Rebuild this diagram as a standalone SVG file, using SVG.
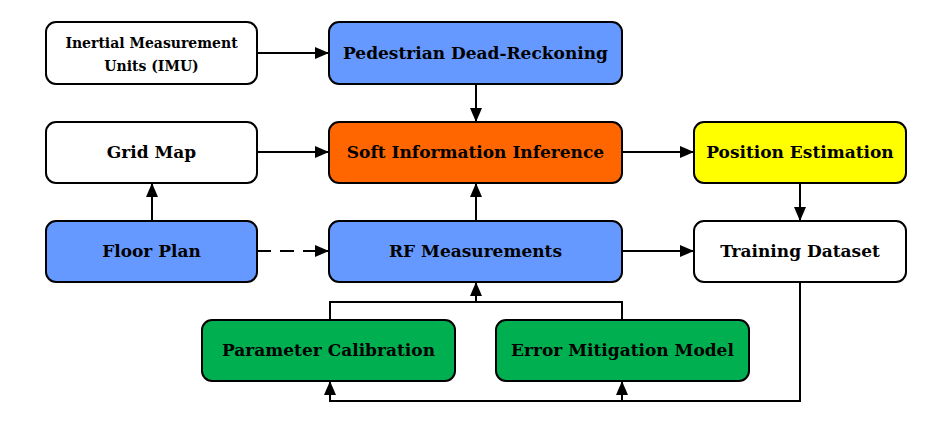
<svg xmlns="http://www.w3.org/2000/svg" width="949" height="434" viewBox="0 0 949 434">
<style>
.box{stroke:#000;stroke-width:2}
.t{font-family:"DejaVu Serif",serif;font-weight:bold;font-size:17px;text-anchor:middle;fill:#000}
.s{font-size:14px}
.c{fill:none;stroke:#000;stroke-width:2}
</style>
<defs>
<marker id="a" markerWidth="14" markerHeight="12" viewBox="0 0 14 12" refX="14" refY="6" orient="auto" markerUnits="userSpaceOnUse">
<path d="M0,0 L14,6 L0,12 Z" fill="#000"/>
</marker>
</defs>
<rect width="949" height="434" fill="#fff"/>
<g id="connectors">
<path class="c" d="M257,53 H329" marker-end="url(#a)"/>
<path class="c" d="M476,84 V122" marker-end="url(#a)"/>
<path class="c" d="M257,152 H329" marker-end="url(#a)"/>
<path class="c" d="M622,152 H694" marker-end="url(#a)"/>
<path class="c" d="M800,183 V221" marker-end="url(#a)"/>
<path class="c" d="M152,221 V183" marker-end="url(#a)"/>
<path class="c" d="M257,251 H329" stroke-dasharray="14,9" marker-end="url(#a)"/>
<path class="c" d="M476,221 V183" marker-end="url(#a)"/>
<path class="c" d="M622,251 H694" marker-end="url(#a)"/>
<path class="c" d="M330,320 V302 H622 V320"/>
<path class="c" d="M476,302 V282" marker-end="url(#a)"/>
<path class="c" d="M800,282 V401 H330 V381" marker-end="url(#a)"/>
<path class="c" d="M622,401 V381" marker-end="url(#a)"/>
</g>
<g id="imu"><rect class="box" x="46" y="22" width="211" height="62" rx="10" fill="#fff"/><text class="t s" x="151.5" y="48">Inertial Measurement</text><text class="t s" x="151.5" y="71">Units (IMU)</text></g>
<g id="pdr"><rect class="box" x="329" y="22" width="293" height="62" rx="10" fill="#6699FF"/><text class="t" x="475.5" y="59">Pedestrian Dead-Reckoning</text></g>
<g id="grid"><rect class="box" x="46" y="122" width="211" height="61" rx="10" fill="#fff"/><text class="t" x="151.5" y="158">Grid Map</text></g>
<g id="soft"><rect class="box" x="329" y="122" width="293" height="61" rx="10" fill="#FF6600"/><text class="t" x="475.5" y="158">Soft Information Inference</text></g>
<g id="pos"><rect class="box" x="694" y="122" width="212" height="61" rx="10" fill="#FFFF00"/><text class="t" x="800" y="158">Position Estimation</text></g>
<g id="floor"><rect class="box" x="46" y="221" width="211" height="61" rx="10" fill="#6699FF"/><text class="t" x="151.5" y="257">Floor Plan</text></g>
<g id="rf"><rect class="box" x="329" y="221" width="293" height="61" rx="10" fill="#6699FF"/><text class="t" x="475.5" y="257">RF Measurements</text></g>
<g id="train"><rect class="box" x="694" y="221" width="212" height="61" rx="10" fill="#fff"/><text class="t" x="800" y="257">Training Dataset</text></g>
<g id="param"><rect class="box" x="202" y="320" width="253" height="61" rx="10" fill="#00B050"/><text class="t" x="328.5" y="356">Parameter Calibration</text></g>
<g id="error"><rect class="box" x="496" y="320" width="253" height="61" rx="10" fill="#00B050"/><text class="t" x="622.5" y="356">Error Mitigation Model</text></g>
</svg>
